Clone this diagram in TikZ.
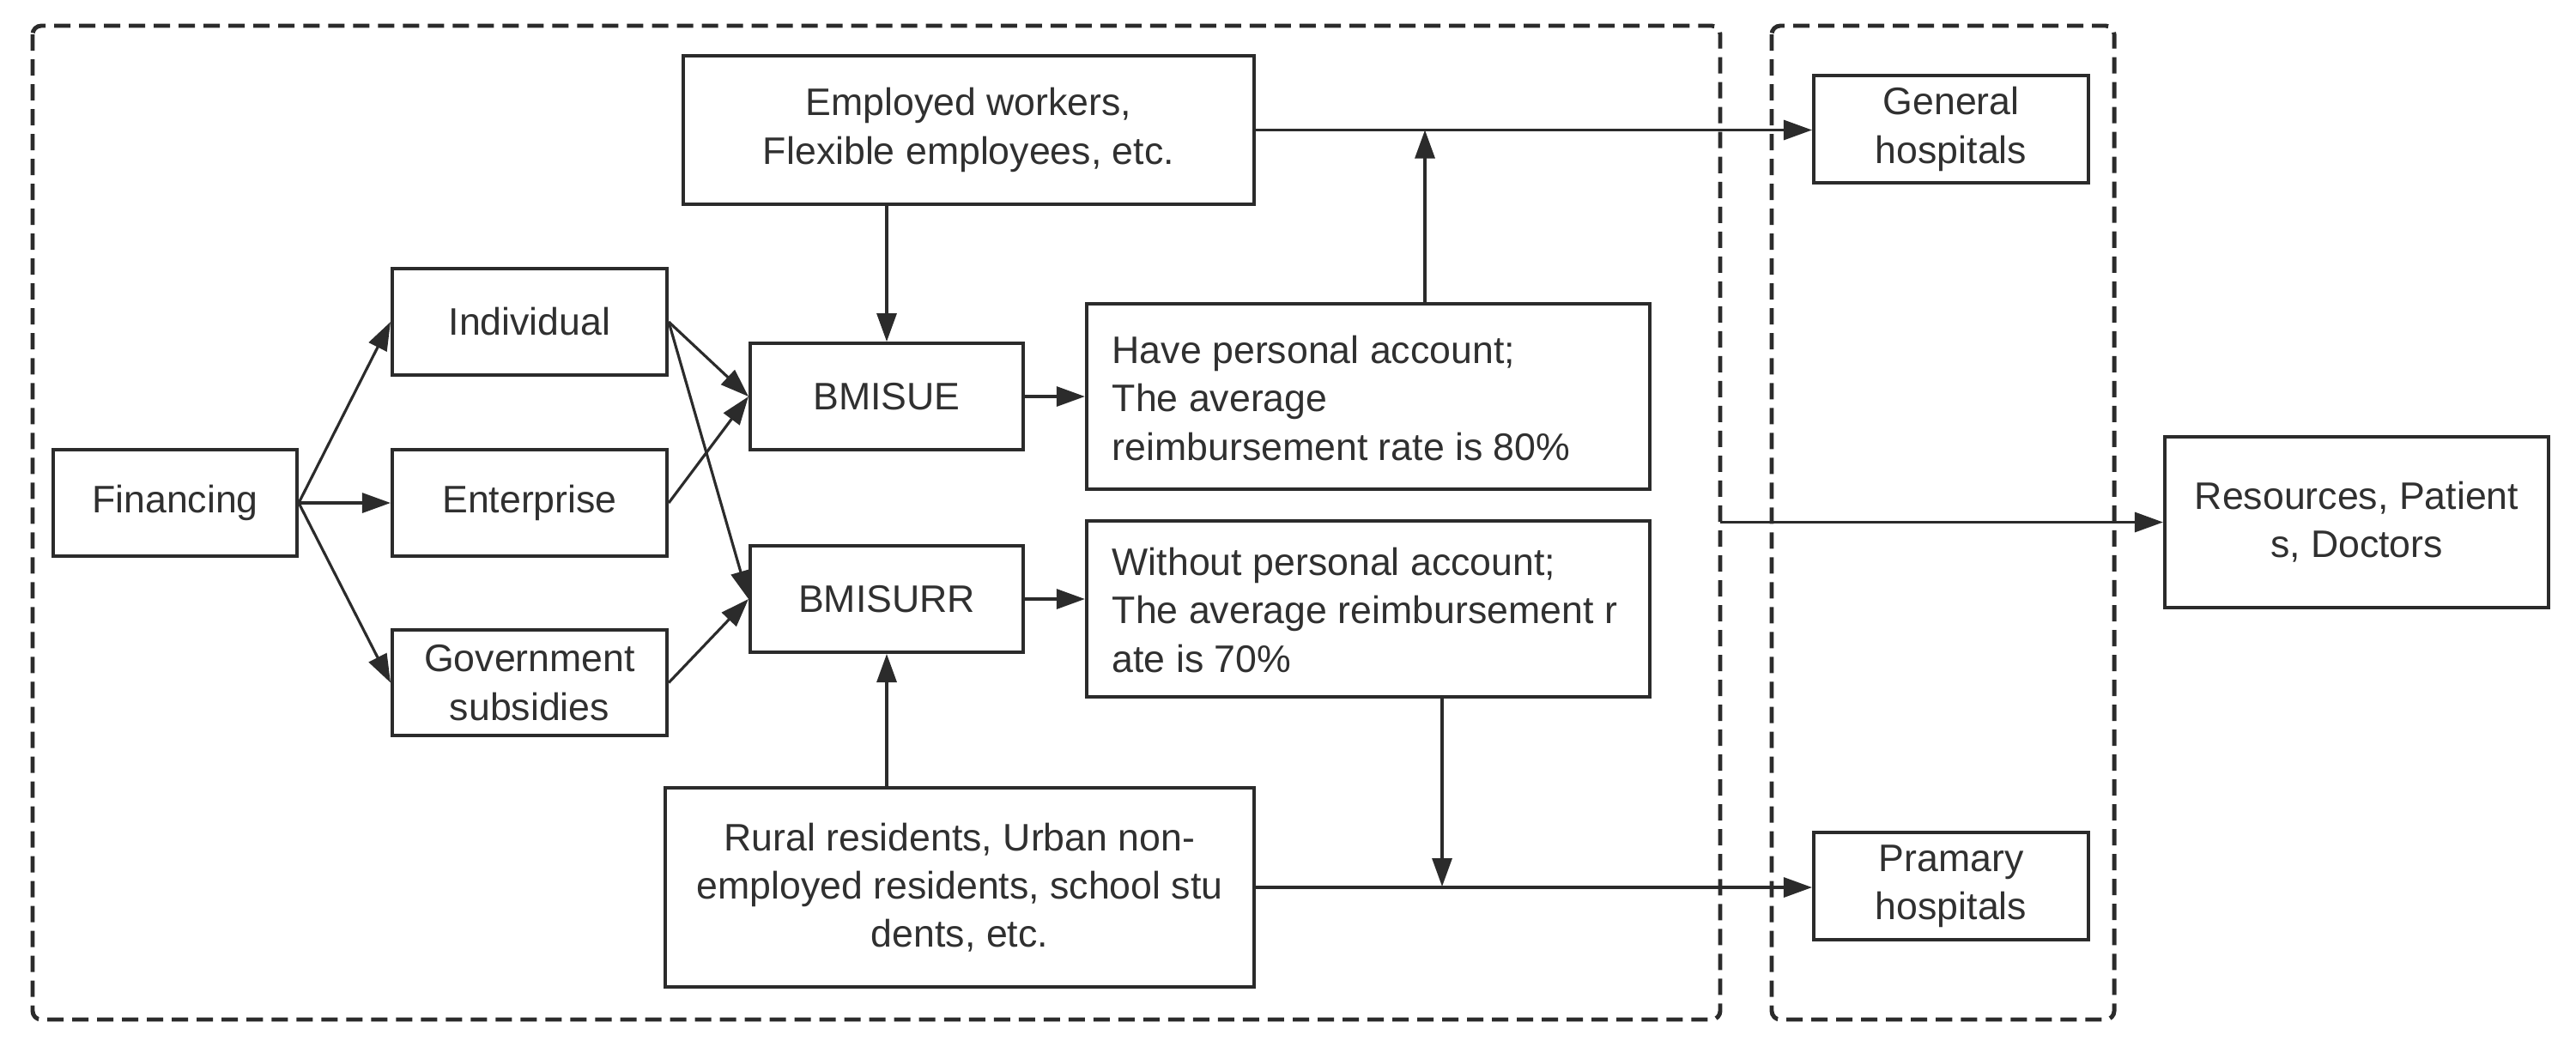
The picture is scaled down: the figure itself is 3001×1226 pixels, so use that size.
\documentclass[tikz,border=0pt]{standalone}
\usepackage{fontspec}
\setmainfont{Liberation Sans}
\usetikzlibrary{arrows.meta,positioning}
\definecolor{ink}{HTML}{2B2B2B}
\definecolor{txt}{HTML}{303030}
\tikzset{
  box/.style={draw=ink, line width=1.1pt, inner sep=0pt, align=center, text=txt,
    font=\fontsize{12.7pt}{16pt}\selectfont},
  plain/.style={inner sep=0pt, align=left, text=txt, font=\fontsize{12.7pt}{16pt}\selectfont},
  arr/.style={draw=ink, line width=0.9pt, -{Triangle[length=0.33cm,width=0.23cm]}},
  dashbox/.style={draw=ink, line width=1.4pt, dash pattern=on 0.19cm off 0.1cm, rounded corners=0.1cm}
}
\begin{document}
\begin{tikzpicture}[x=0.01cm, y=-0.01cm]
\useasboundingbox (0,0) rectangle (3001,1226);
% dashed groups
\draw[dashbox] (38,30) rectangle (2004,1188);
\draw[dashbox] (2064,30) rectangle (2463,1188);
% nodes
\node[box, minimum width=2.84cm, minimum height=1.24cm] (fin) at (204,586) {Financing};
\node[box, minimum width=3.20cm, minimum height=1.24cm] (ind) at (617,375) {Individual};
\node[box, minimum width=3.20cm, minimum height=1.24cm] (ent) at (617,586) {Enterprise};
\node[box, minimum width=3.20cm, minimum height=1.23cm] (gov) at (617,795.5) {Government\\subsidies};
\node[box, minimum width=6.65cm, minimum height=1.73cm] (emp) at (1128.5,151.5) {Employed workers,\\Flexible employees, etc.};
\node[box, minimum width=3.18cm, minimum height=1.24cm] (bue) at (1033,462) {BMISUE};
\node[box, minimum width=3.18cm, minimum height=1.24cm] (burr) at (1033,698) {BMISURR};
\node[box, minimum width=6.56cm, minimum height=2.16cm] (have) at (1594,462) {};
\node[plain, anchor=west] (havetxt) at (1295,464) {Have personal account;\\The average\\reimbursement rate is 80\%};
\node[box, minimum width=6.56cm, minimum height=2.05cm] (without) at (1594,709.5) {};
\node[plain, anchor=west] (withouttxt) at (1295,711) {Without personal account;\\The average reimbursement r\\ate is 70\%};
\node[box, minimum width=6.86cm, minimum height=2.32cm] (rural) at (1118,1034) {Rural residents, Urban non-\\employed residents, school stu\\dents, etc.};
\node[box, minimum width=3.20cm, minimum height=1.25cm] (gen) at (2273,150.5) {General\\hospitals};
\node[box, minimum width=3.20cm, minimum height=1.25cm] (pri) at (2273,1032.5) {Pramary\\hospitals};
\node[box, minimum width=4.47cm, minimum height=1.99cm] (res) at (2745.5,608.5) {Resources, Patient\\s, Doctors};
% junction coordinates
\coordinate (j1) at (1660,151.5);
\coordinate (j2) at (1680,1033);
\coordinate (r0) at (2004,608.5);
% connectors
\draw[arr] (fin.east) -- (ind.west);
\draw[arr] (fin.east) -- (ent.west);
\draw[arr] (fin.east) -- (gov.west);
\draw[arr] (ind.east) -- (bue.west);
\draw[arr] (ind.east) -- (burr.west);
\draw[arr] (ent.east) -- (bue.west);
\draw[arr] (gov.east) -- (burr.west);
\draw[arr] (bue.north |- emp.south) -- (bue.north);
\draw[arr] (burr.south |- rural.north) -- (burr.south);
\draw[arr] (bue.east) -- (have.west |- bue.east);
\draw[arr] (burr.east) -- (without.west |- burr.east);
\draw[arr] (emp.east) -- (emp.east -| gen.west);
\draw[arr] (j1 |- have.north) -- (j1);
\draw[arr] (rural.east) -- (rural.east -| pri.west);
\draw[arr] (j2 |- without.south) -- (j2);
\draw[arr] (r0) -- (res.west);
\end{tikzpicture}
\end{document}
